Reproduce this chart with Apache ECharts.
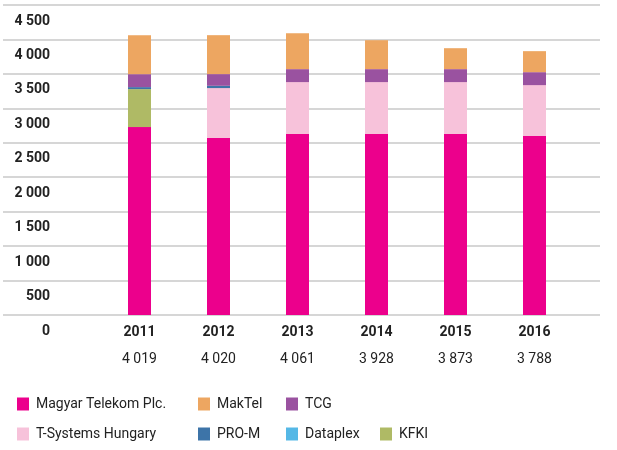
<!DOCTYPE html>
<html><head><meta charset="utf-8">
<script src="https://cdn.jsdelivr.net/npm/echarts@6/dist/echarts.min.js"></script>
<style>html,body{margin:0;padding:0;background:#fff}#c{width:617px;height:450px}</style>
</head><body><div id="c"></div>
<script>
var years = ['2011','2012','2013','2014','2015','2016'];
var totals = ['4 019','4 020','4 061','3 928','3 873','3 788'];
var yTicks = ['0','500','1 000','1 500','2 000','2 500','3 000','3 500','4 000','4 500'];
var magyarTelekom = [2728, 2569, 2627, 2627, 2627, 2598];
var tSystems = [0, 725, 754, 754, 754, 739];
var kfki = [551, 0, 0, 0, 0, 0];
var proM = [29, 33, 0, 0, 0, 0];
var dataplex = [0, 0, 0, 0, 0, 0];
var tcg = [188, 170, 188, 188, 188, 188];
var makTel = [565, 565, 521, 420, 304, 305];

var seriesDefs = [
  ['Magyar Telekom Plc.', magyarTelekom, '#EC008C'],
  ['T-Systems Hungary', tSystems, '#F7C2DA'],
  ['KFKI', kfki, '#AFBA65'],
  ['PRO-M', proM, '#3D74A8'],
  ['Dataplex', dataplex, '#55B8E6'],
  ['TCG', tcg, '#9A52A0'],
  ['MakTel', makTel, '#EDA661']
];

var font = 'Roboto, "Liberation Sans", sans-serif';
function legend(left, top, name){
  return {
    left: left, top: top, padding: 0, itemWidth: 12, itemHeight: 13,
    icon: 'rect', selectedMode: false,
    textStyle: {fontFamily: font, fontSize: 14, color: '#222', padding: [0,0,0,2]},
    data: [name]
  };
}

var chart = echarts.init(document.getElementById('c'));
chart.setOption({
  animation: false,
  textStyle: {fontFamily: font},
  legend: [
    legend(17, 397, 'Magyar Telekom Plc.'),
    legend(17, 427, 'T-Systems Hungary'),
    legend(198, 397, 'MakTel'),
    legend(198, 427, 'PRO-M'),
    legend(286, 397, 'TCG'),
    legend(286, 427, 'Dataplex'),
    legend(380, 427, 'KFKI')
  ],
  grid: [
    {left: 3, right: 17, top: 5, bottom: 135},
    {left: 100, right: 43, top: 5, bottom: 135}
  ],
  xAxis: [
    {type: 'value', gridIndex: 0, show: false, min: 0, max: 1},
    {type: 'category', gridIndex: 1, data: years,
     axisLine: {show: false}, axisTick: {show: false},
     axisLabel: {
       margin: 7, interval: 0,
       formatter: function(v, i){ return '{y|' + v + '}\n{v|' + totals[i] + '}'; },
       rich: {
         y: {fontFamily: font, fontSize: 14, fontWeight: 'bold', color: '#222', lineHeight: 20},
         v: {fontFamily: font, fontSize: 14, color: '#222', lineHeight: 34}
       }
     }}
  ],
  yAxis: [
    {type: 'value', gridIndex: 0, min: 0, max: 4500, interval: 500,
     axisLine: {show: false}, axisTick: {show: false},
     splitLine: {show: true, lineStyle: {color: '#c8c8c8', width: 1.5}},
     axisLabel: {
       margin: -47, align: 'right', verticalAlign: 'top', padding: [9,0,0,0],
       fontFamily: font, fontSize: 14, fontWeight: 'bold', color: '#222',
       formatter: function(v){ return yTicks[Math.round(v/500)]; }
     }},
    {type: 'value', gridIndex: 1, min: 0, max: 4500, interval: 500, show: false,
     splitLine: {show: false}}
  ],
  series: seriesDefs.map(function(s){
    return {
      name: s[0], type: 'bar', stack: 'total', xAxisIndex: 1, yAxisIndex: 1,
      barWidth: 23, data: s[1], itemStyle: {color: s[2]}
    };
  })
});
</script></body></html>
